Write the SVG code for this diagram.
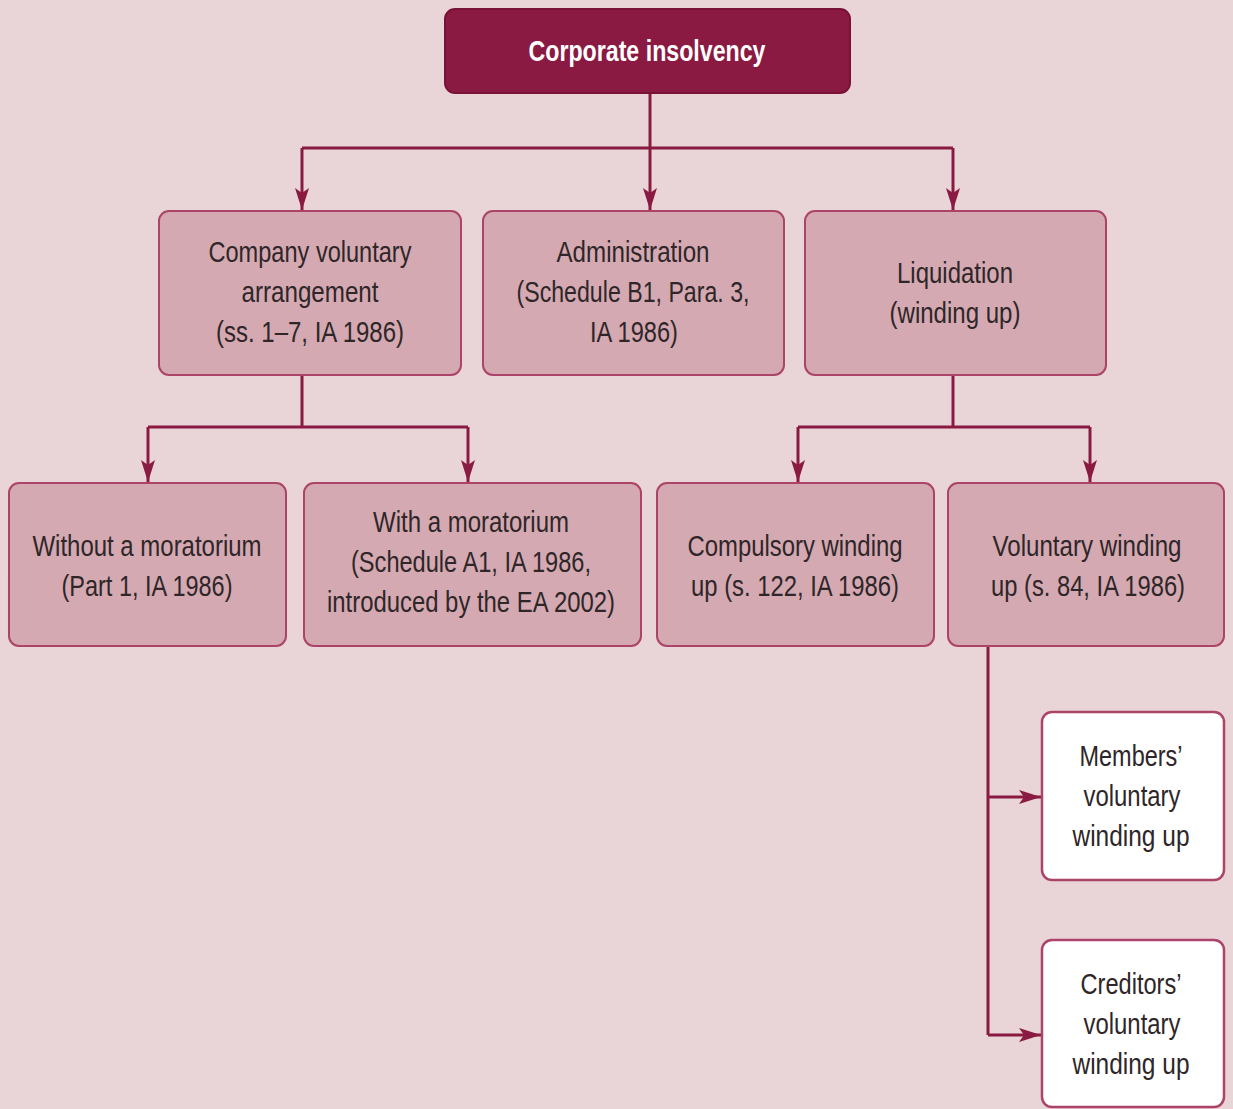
<svg xmlns="http://www.w3.org/2000/svg" width="1233" height="1109" viewBox="0 0 1233 1109">
  <defs>
    <marker id="arrow" viewBox="0 0 22 14" refX="22" refY="7" markerWidth="22" markerHeight="14" markerUnits="userSpaceOnUse" orient="auto">
      <path d="M0,0 L22,7 L0,14 L5,7 Z" fill="#8b1a43"/>
    </marker>
    <style>
      .bg { fill: #e9d4d7; }
      .top { fill: #8b1a43; stroke: #7a1238; stroke-width: 2; }
      .mid { fill: #d4a9b1; stroke: #ab4468; stroke-width: 2; }
      .leaf { fill: #ffffff; stroke: #ab4468; stroke-width: 2.5; }
      .link { fill: none; stroke: #8b1a43; stroke-width: 3; }
      .arr { marker-end: url(#arrow); }
      text { font-family: "Liberation Sans", Arial, sans-serif; font-size: 30px; fill: #2e2628; text-anchor: middle; dominant-baseline: central; }
      .title { fill: #ffffff; font-weight: bold; font-size: 30px; }
    </style>
  </defs>

  <rect class="bg" x="0" y="0" width="1233" height="1109"/>

  <!-- connectors -->
  <g id="connectors">
    <path class="link" d="M650,93 V148"/>
    <path class="link" d="M302,148 H953"/>
    <path class="link arr" d="M302,148 V210"/>
    <path class="link arr" d="M650,148 V210"/>
    <path class="link arr" d="M953,148 V210"/>

    <path class="link" d="M302,375 V427 M148,427 H468"/>
    <path class="link arr" d="M148,427 V482"/>
    <path class="link arr" d="M468,427 V482"/>

    <path class="link" d="M953,375 V427 M798,427 H1090"/>
    <path class="link arr" d="M798,427 V482"/>
    <path class="link arr" d="M1090,427 V482"/>

    <path class="link" d="M988,646 V1035"/>
    <path class="link arr" d="M988,797 H1041"/>
    <path class="link arr" d="M988,1035 H1041"/>
  </g>

  <!-- root -->
  <g id="corporate-insolvency">
    <rect class="top" x="445" y="9" width="405" height="84" rx="10"/>
    <text class="title" x="647" y="50" textLength="237" lengthAdjust="spacingAndGlyphs">Corporate insolvency</text>
  </g>

  <!-- second level -->
  <g id="cva">
    <rect class="mid" x="159" y="211" width="302" height="164" rx="10"/>
    <text x="310" y="251" textLength="203" lengthAdjust="spacingAndGlyphs">Company voluntary</text>
    <text x="310" y="291" textLength="137" lengthAdjust="spacingAndGlyphs">arrangement</text>
    <text x="310" y="331" textLength="188" lengthAdjust="spacingAndGlyphs">(ss. 1–7, IA 1986)</text>
  </g>
  <g id="administration">
    <rect class="mid" x="483" y="211" width="301" height="164" rx="10"/>
    <text x="633" y="251" textLength="153" lengthAdjust="spacingAndGlyphs">Administration</text>
    <text x="633" y="291" textLength="233" lengthAdjust="spacingAndGlyphs">(Schedule B1, Para. 3,</text>
    <text x="634" y="331" textLength="88" lengthAdjust="spacingAndGlyphs">IA 1986)</text>
  </g>
  <g id="liquidation">
    <rect class="mid" x="805" y="211" width="301" height="164" rx="10"/>
    <text x="955" y="272" textLength="116" lengthAdjust="spacingAndGlyphs">Liquidation</text>
    <text x="955" y="312" textLength="131" lengthAdjust="spacingAndGlyphs">(winding up)</text>
  </g>

  <!-- third level -->
  <g id="without-moratorium">
    <rect class="mid" x="9" y="483" width="277" height="163" rx="10"/>
    <text x="147" y="545" textLength="229" lengthAdjust="spacingAndGlyphs">Without a moratorium</text>
    <text x="147" y="585" textLength="171" lengthAdjust="spacingAndGlyphs">(Part 1, IA 1986)</text>
  </g>
  <g id="with-moratorium">
    <rect class="mid" x="304" y="483" width="337" height="163" rx="10"/>
    <text x="471" y="521" textLength="196" lengthAdjust="spacingAndGlyphs">With a moratorium</text>
    <text x="471" y="561" textLength="240" lengthAdjust="spacingAndGlyphs">(Schedule A1, IA 1986,</text>
    <text x="471" y="601" textLength="288" lengthAdjust="spacingAndGlyphs">introduced by the EA 2002)</text>
  </g>
  <g id="compulsory-winding-up">
    <rect class="mid" x="657" y="483" width="277" height="163" rx="10"/>
    <text x="795" y="545" textLength="215" lengthAdjust="spacingAndGlyphs">Compulsory winding</text>
    <text x="795" y="585" textLength="208" lengthAdjust="spacingAndGlyphs">up (s. 122, IA 1986)</text>
  </g>
  <g id="voluntary-winding-up">
    <rect class="mid" x="948" y="483" width="276" height="163" rx="10"/>
    <text x="1087" y="545" textLength="189" lengthAdjust="spacingAndGlyphs">Voluntary winding</text>
    <text x="1088" y="585" textLength="194" lengthAdjust="spacingAndGlyphs">up (s. 84, IA 1986)</text>
  </g>

  <!-- voluntary winding up types -->
  <g id="members-voluntary">
    <rect class="leaf" x="1042" y="712" width="182" height="168" rx="10"/>
    <text x="1131" y="755" textLength="103" lengthAdjust="spacingAndGlyphs">Members’</text>
    <text x="1132" y="795" textLength="97" lengthAdjust="spacingAndGlyphs">voluntary</text>
    <text x="1131" y="835" textLength="117" lengthAdjust="spacingAndGlyphs">winding up</text>
  </g>
  <g id="creditors-voluntary">
    <rect class="leaf" x="1042" y="940" width="182" height="167" rx="10"/>
    <text x="1131" y="983" textLength="101" lengthAdjust="spacingAndGlyphs">Creditors’</text>
    <text x="1132" y="1023" textLength="97" lengthAdjust="spacingAndGlyphs">voluntary</text>
    <text x="1131" y="1063" textLength="117" lengthAdjust="spacingAndGlyphs">winding up</text>
  </g>
</svg>
